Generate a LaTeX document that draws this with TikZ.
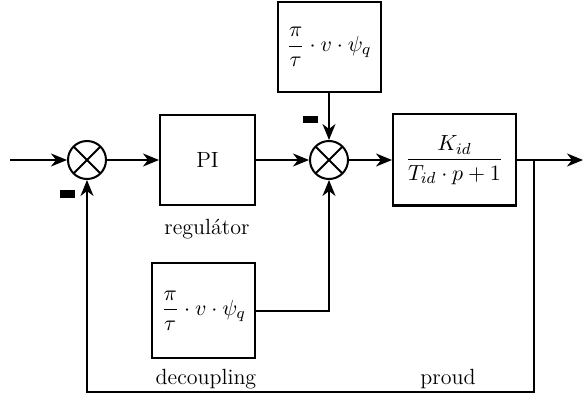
\documentclass[tikz,border=0pt]{standalone}
\usepackage{amsmath,amssymb}
\usepackage{xcolor}
\usepackage{tikz}
\usetikzlibrary{arrows.meta,positioning}

\begin{document}
\begin{tikzpicture}[x=0.5pt,y=-0.5pt, line width=1pt, >={Stealth[length=8pt,width=6.5pt,inset=2.5pt]},
  every node/.style={font=\fontsize{11}{13.5}\selectfont},
  block/.style={draw,minimum width=51.5pt,minimum height=45pt,inner sep=2pt},
  sumnode/.style={draw,circle,minimum size=19pt,inner sep=0pt,
    path picture={\draw (path picture bounding box.north west)--(path picture bounding box.south east)
                        (path picture bounding box.north east)--(path picture bounding box.south west);}},
  minus/.style={fill=black,minimum width=7.5pt,minimum height=3.8pt,inner sep=0pt}]
\useasboundingbox (0,0) rectangle (584,401);
\coordinate (in) at (10,160);
\node[sumnode] (sum1) at (87,160) {};
\node[block,minimum width=47.5pt] (pi) at (207.5,160) {PI};
\node[sumnode] (sum2) at (329,160) {};
\node[block] (ff) at (329,47) {$\dfrac{\pi}{\tau}\cdot v\cdot\psi_q$};
\node[block,minimum width=61.5pt,minimum height=45.5pt] (plant) at (454.5,160) {$\dfrac{K_{id}}{T_{id}\cdot p+1}$};
\node[block,minimum height=47.5pt] (dec) at (203.5,310.5) {$\dfrac{\pi}{\tau}\cdot v\cdot\psi_q$};
\coordinate (br) at (534,160);
\coordinate (out) at (583,160);
\coordinate (fb) at (534,392);
% texts and signs
\node (reg) at (207,229) {regul\'ator};
\node (declab) at (206,379) {decoupling};
\node (proud) at (448,379) {proud};
\node[minus] (m1) at (67.5,194) {};
\node[minus] (m2) at (310.5,119.5) {};
% connectors
\draw[->] (in)--(sum1); \draw[->] (sum1)--(pi); \draw[->] (pi)--(sum2);
\draw[->] (ff)--(sum2); \draw[->] (sum2)--(plant);
\draw (plant.east)--(br); \draw[->] (br)--(out);
\draw[->] (br)--(fb)-|(sum1.south);
\draw[->] (dec.east)-|(sum2.south);
\end{tikzpicture}
\end{document}
